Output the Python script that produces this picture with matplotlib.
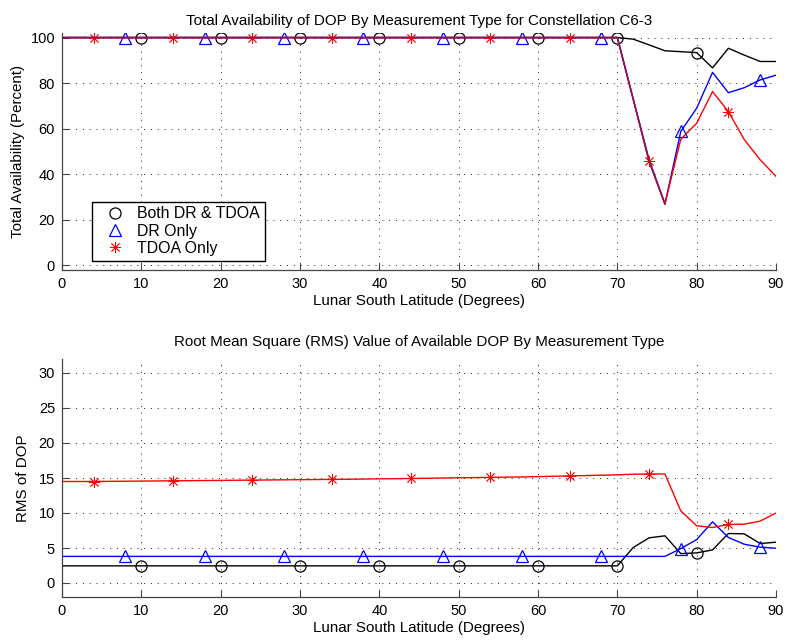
import matplotlib
matplotlib.use("Agg")
import numpy as np
import matplotlib.pyplot as plt
from matplotlib.lines import Line2D

plt.rcParams['font.family'] = ['Liberation Sans', 'DejaVu Sans']

# Lunar south latitude grid (degrees)
latitude = list(range(0, 92, 2))

# Total availability (percent)
avail_both = [100.0] * 36 + [99.3, 96.8, 94.2, 93.8, 93.4, 86.7, 95.3, 92.3, 89.5, 89.5]
avail_dr = [100.0] * 36 + [73.0, 46.5, 27.0, 58.8, 69.0, 84.7, 75.8, 78.0, 81.4, 83.5]
avail_tdoa = [100.0] * 36 + [73.0, 45.7, 27.0, 55.4, 62.4, 76.3, 67.5, 55.2, 46.4, 39.1]

# RMS of available DOP
rms_both = [2.45] * 36 + [5.07, 6.45, 6.74, 4.2, 4.3, 4.73, 7.07, 7.02, 5.64, 5.83]
rms_dr = [3.8] * 39 + [4.92, 6.2, 8.74, 6.5, 5.54, 5.11, 4.97]
rms_tdoa = [14.5, 14.5, 14.5, 14.52, 14.54, 14.56, 14.58, 14.6, 14.62, 14.64,
            14.66, 14.68, 14.7, 14.72, 14.74, 14.76, 14.78, 14.8, 14.82, 14.85,
            14.88, 14.9, 14.93, 14.96, 15.0, 15.03, 15.06, 15.09, 15.12, 15.15,
            15.2, 15.25, 15.3, 15.35, 15.4, 15.45,
            15.55, 15.57, 15.57, 10.3, 8.17, 7.93, 8.36, 8.4, 8.84, 10.0]

legend_labels = ['Both DR & TDOA', 'DR Only', 'TDOA Only']

# marker indices along the 2-degree grid
mark_both = [5, 10, 15, 20, 25, 30, 35, 40]
mark_dr = [4, 9, 14, 19, 24, 29, 34, 39, 44]
mark_tdoa = [2, 7, 12, 17, 22, 27, 32, 37, 42]

ASTER = (8, 2, 0)
OVERLAP = '#8c1450'

fig = plt.figure(figsize=(7.88, 6.41), dpi=100)
ax1 = fig.add_axes([62 / 788, 1 - 270 / 641, 714 / 788, 237 / 641])
ax2 = fig.add_axes([62 / 788, 1 - 597 / 641, 714 / 788, 238 / 641])

FS = 10.5
TFS = 10.9


def style(ax):
    ax.grid(True, linestyle=(0, (1, 6)), color='#222222', linewidth=0.7)
    ax.tick_params(direction='in', length=5, width=0.8, labelsize=FS,
                   pad=5, color='#444444')
    for side in ('top', 'right'):
        ax.spines[side].set_visible(False)
    for side in ('left', 'bottom'):
        ax.spines[side].set_linewidth(0.9)
        ax.spines[side].set_color('#444444')
    ax.set_xlim(0, 90)
    ax.set_xticks(range(0, 91, 10))
    ax.set_xlabel('Lunar South Latitude (Degrees)', fontsize=TFS, labelpad=2)


def draw(ax, yb, yd, yt):
    ax.plot(latitude, yb, color='black', lw=1.0, marker='o', ms=8,
            mfc='none', mec='black', mew=0.9, markevery=mark_both)
    ax.plot(latitude, yd, color='blue', lw=1.0, marker='^', ms=9,
            mfc='none', mec='blue', mew=0.9, markevery=mark_dr)
    ax.plot(latitude, yt, color='red', lw=1.0, marker=ASTER, ms=8,
            mfc='none', mec='red', mew=0.6, markevery=mark_tdoa)
    # where the TDOA and DR curves coincide the strokes blend together
    yt_arr = np.asarray(yt, dtype=float)
    shared = np.where(np.isclose(yt_arr, np.asarray(yd, dtype=float), atol=1.0),
                      yt_arr, np.nan)
    ax.plot(latitude, shared, color=OVERLAP, lw=1.1, zorder=2.1)


draw(ax1, avail_both, avail_dr, avail_tdoa)
style(ax1)
ax1.set_ylim(-2, 102)
ax1.set_yticks(range(0, 101, 20))
ax1.set_ylabel('Total Availability (Percent)', fontsize=TFS, labelpad=4)
ax1.set_title('Total Availability of DOP By Measurement Type for Constellation C6-3',
              fontsize=TFS, pad=6)

handles = [
    Line2D([], [], linestyle='none', marker='o', ms=8, mfc='none', mec='black', mew=0.9),
    Line2D([], [], linestyle='none', marker='^', ms=9, mfc='none', mec='blue', mew=0.9),
    Line2D([], [], linestyle='none', marker=ASTER, ms=8, mfc='none', mec='red', mew=0.6),
]
leg = ax1.legend(handles, legend_labels, loc='lower left',
                 bbox_to_anchor=(0.042, 0.04), fontsize=11.4, frameon=True,
                 fancybox=False, framealpha=1, edgecolor='black',
                 handlelength=2.3, handletextpad=0.25, borderpad=0.3,
                 labelspacing=0.14, borderaxespad=0)
leg.get_frame().set_linewidth(1.0)

draw(ax2, rms_both, rms_dr, rms_tdoa)
style(ax2)
ax2.set_ylim(-2, 32)
ax2.set_yticks(range(0, 31, 5))
ax2.set_ylabel('RMS of DOP', fontsize=TFS, labelpad=6)
ax2.set_title('Root Mean Square (RMS) Value of Available DOP By Measurement Type',
              fontsize=TFS, pad=9)

fig.savefig('out.png', dpi=100)
